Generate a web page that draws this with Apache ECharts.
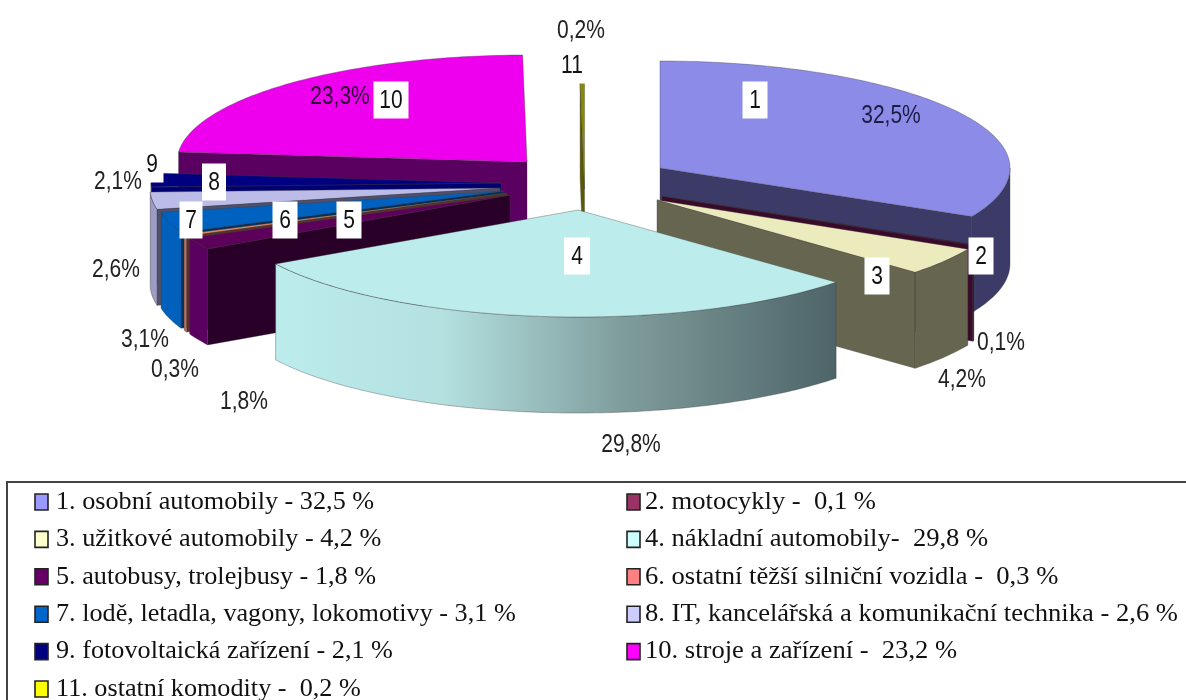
<!DOCTYPE html>
<html>
<head>
<meta charset="utf-8">
<style>html,body{margin:0;padding:0;background:#fff}#c{width:1186px;height:700px}</style>
<script src="https://cdn.jsdelivr.net/npm/echarts@6/dist/echarts.min.js"></script>
</head>
<body>
<div id="c"></div>
<script>
// Share of each commodity group, in percent
var sliceNumbers = ['1','2','3','4','5','6','7','8','9','10','11'];
var shareValues = [32.5, 0.1, 4.2, 29.8, 1.8, 0.3, 3.1, 2.6, 2.1, 23.3, 0.2];
var legendTexts = [
  '1. osobní automobily - 32,5 %',
  '2. motocykly -  0,1 %',
  '3. užitkové automobily - 4,2 %',
  '4. nákladní automobily-  29,8 %',
  '5. autobusy, trolejbusy - 1,8 %',
  '6. ostatní těžší silniční vozidla -  0,3 %',
  '7. lodě, letadla, vagony, lokomotivy - 3,1 %',
  '8. IT, kancelářská a komunikační technika - 2,6 %',
  '9. fotovoltaická zařízení - 2,1 %',
  '10. stroje a zařízení -  23,2 %',
  '11. ostatní komodity -  0,2 %'
];

// Styling and layout of the exploded pie
var legendColors = ['#9999ff','#993366','#ffffcc','#ccffff','#660066','#ff8080','#0066cc','#ccccff','#000080','#ff00ff','#ffff00'];
var topColors   = ['#8c8ce8','#3a0a2a','#ecebbd','#bcecec','#5c005c','#e08868','#0062c0','#bcbce8','#000080','#ee00ee','#8a8a00'];
var rimColors   = ['#3c3a66','#3a0a2a','#666650','#000000','#5a0060','#c07060','#0060bc','#9c9cc4','#000060','#5a0060','#6a6a00'];
var faceColors  = ['#3c3a66','#3a0a2a','#666650','#000000','#280028','#5a3028','#00305c','#50506c','#000070','#5a0060','#5a5a00'];
var apexX = [660, 662, 657, 578, 510, 507, 504, 500, 501, 527, 584.5];
var apexY = [168, 196, 200, 210, 195, 193, 191, 188, 183, 162, 189];
var paintRank = [3, 6, 7, 11, 10, 9, 8, 5, 4, 1, 2];
var radiusX = 350, radiusY = 107, depth = 96;

var valueLabelX = [891, 1001, 962, 631, 244, 175, 145, 116, 118, 340, 581];
var valueLabelY = [116, 343, 380, 445, 402, 370, 340, 270, 182, 97, 31];
var numberBoxX  = [755, 981, 877, 577, 349, 285, 191, 214, 152, 391, 572];
var numberBoxY  = [100, 256, 276, 256, 220, 220, 220, 182, 164, 100, 65];
var numberBoxW  = [25, 25, 25, 26, 25, 25, 23, 24, 23, 35, 26];

var legendColumnX = [35, 627];
var legendTextX = [56, 645];
var legendTextStretch = [1.008, 1.022];
var legendTopY = 502, legendRowStep = 37.4;

// Running totals give every slice its start and end angle, clockwise from 12 o'clock
var total = shareValues.reduce(function (a, b) { return a + b; }, 0);
var running = 0;
var sliceData = shareValues.map(function (v) {
  var from = running / total * 360;
  running += v;
  return [from, running / total * 360, v];
});

function rimPoint(cx, cy, deg, drop) {
  var r = deg * Math.PI / 180;
  return [cx + radiusX * Math.sin(r), cy - radiusY * Math.cos(r) + drop];
}
function arcPoints(cx, cy, a, b, drop) {
  var pts = [], n = Math.max(2, Math.ceil(Math.abs(b - a)));
  for (var i = 0; i <= n; i++) pts.push(rimPoint(cx, cy, a + (b - a) * i / n, drop));
  return pts;
}
var edgeColor = 'rgba(60,60,60,0.5)';

function renderSlice(params, api) {
  var i = params.dataIndex, a = api.value(0), b = api.value(1);
  var cx = apexX[i], cy = apexY[i], rank = paintRank[i] * 10;
  var kids = [];
  function poly(points, fill, z) {
    kids.push({
      type: 'polygon', z2: rank + z, shape: { points: points },
      style: { fill: fill, stroke: edgeColor, lineWidth: 0.7 }
    });
  }
  // Only the radial wall that faces the viewer is drawn
  var faceAngle = (b > 0 && b < 180) ? b : ((a > 180 && a < 360) ? a : null);
  if (faceAngle !== null) {
    var p = rimPoint(cx, cy, faceAngle, 0);
    poly([[cx, cy], p, [p[0], p[1] + depth], [cx, cy + depth]], faceColors[i], 0);
  }
  // Outer wall along the front half of the ellipse
  var wa = Math.max(a, 90), wb = Math.min(b, 270);
  if (wb > wa) {
    var top = arcPoints(cx, cy, wa, wb, 0);
    var bottom = arcPoints(cx, cy, wa, wb, depth).reverse();
    var fill = rimColors[i];
    if (i === 3) {
      fill = new echarts.graphic.LinearGradient(0, 0, 1, 0, [
        { offset: 0, color: '#bcecec' },
        { offset: 0.3, color: '#b4e0e0' },
        { offset: 0.62, color: '#7f9c9c' },
        { offset: 1, color: '#4e6468' }
      ]);
    }
    poly(top.concat(bottom), fill, 1);
  }
  // Top face
  poly([[cx, cy]].concat(arcPoints(cx, cy, a, b, 0)), topColors[i], 2);
  return { type: 'group', children: kids };
}

// Arial squeezed horizontally, the way the chart's captions are set
function captionText(text, x, y, fill) {
  return {
    type: 'text', z2: 1001, x: x, y: y, scaleX: 0.84,
    style: { text: text, fill: fill, fontFamily: '"Liberation Sans",Arial,sans-serif', fontSize: 25, textAlign: 'center', textVerticalAlign: 'middle' }
  };
}

function renderLabels(params, api) {
  var i = params.dataIndex;
  var v = api.value(2);
  var text = v.toFixed(1).replace('.', ',') + '%';
  return {
    type: 'group',
    children: [
      { type: 'rect', z2: 1000, shape: { x: numberBoxX[i] - numberBoxW[i] / 2, y: numberBoxY[i] - 18.5, width: numberBoxW[i], height: 37 }, style: { fill: '#ffffff' } },
      captionText(sliceNumbers[i], numberBoxX[i], numberBoxY[i] + 1, '#111111'),
      captionText(text, valueLabelX[i], valueLabelY[i], i === 9 ? '#2a0036' : (i === 0 ? '#1c1c44' : '#222222'))
    ]
  };
}

function renderLegend(params, api) {
  var i = params.dataIndex;
  var col = i % 2, row = Math.floor(i / 2);
  var x = legendColumnX[col], y = legendTopY + row * legendRowStep;
  return {
    type: 'group',
    children: [
      { type: 'rect', shape: { x: x, y: y - 8, width: 13, height: 16 }, style: { fill: legendColors[i], stroke: '#222222', lineWidth: 1.6 } },
      { type: 'text', x: legendTextX[col], y: y, scaleX: legendTextStretch[col], style: { text: legendTexts[i], fill: '#111111', fontFamily: '"Liberation Serif",serif', fontSize: 26, textAlign: 'left', textVerticalAlign: 'middle' } }
    ]
  };
}

var chart = echarts.init(document.getElementById('c'), null, { renderer: 'canvas' });
chart.setOption({
  animation: false,
  backgroundColor: '#ffffff',
  graphic: [{
    type: 'rect', silent: true,
    shape: { x: 7, y: 482, width: 1220, height: 260 },
    style: { fill: 'transparent', stroke: '#444444', lineWidth: 2 }
  }],
  series: [
    { type: 'custom', coordinateSystem: 'none', silent: true, renderItem: renderSlice, data: sliceData, z: 2 },
    { type: 'custom', coordinateSystem: 'none', silent: true, renderItem: renderLabels, data: sliceData, z: 3 },
    { type: 'custom', coordinateSystem: 'none', silent: true, renderItem: renderLegend, data: sliceData, z: 3 }
  ]
});
</script>
</body>
</html>
